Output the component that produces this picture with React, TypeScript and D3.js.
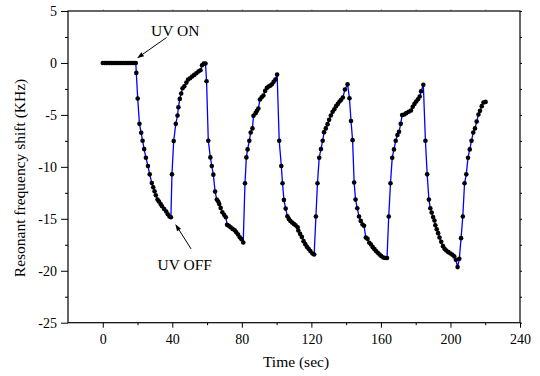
import { useEffect, useRef } from "react";
import * as d3 from "d3";

const width = 540;
const height = 376;

// plot frame in pixels
const left = 68;
const right = 520;
const top = 11;
const bottom = 322.7;

const fontFamily = '"Liberation Serif", "Times New Roman", serif';

// time in seconds
const timeSec = [
  0, 1, 2, 3, 4, 5, 6, 7, 8, 9, 10, 11, 12, 13, 14, 15, 16, 17, 18, 19,
  19.3, 20.1, 21.1, 22.1, 22.9, 23.8, 24.8, 26.0, 27.0, 28.2, 29.0, 29.8,
  30.5, 31.5, 32.3, 33.3, 34.1, 35.3, 36.5, 37.4, 38.4, 39.2,
  39.8, 40.8, 42.0, 43.0, 43.5, 44.3, 45.1, 45.9, 46.9, 48.1, 49.1, 50.2,
  51.4, 52.6, 53.8, 55.0, 56.2, 57.1, 58.1, 59.1, 59.7,
  60.7, 61.9, 62.7, 63.6, 64.6, 65.6, 66.4, 67.0, 67.8, 68.8, 69.8, 70.8,
  71.5, 72.5, 73.5, 74.7, 75.9, 76.8, 77.8, 78.8, 79.8, 80.8,
  81.8, 82.6, 83.3, 84.3, 85.1, 86.1, 86.7, 87.9, 88.7, 89.5, 90.4, 91.4,
  92.4, 93.4, 94.4, 95.4, 96.4, 97.3, 98.3, 99.3, 100.3,
  101.5, 102.7, 103.4, 104.2, 105.2, 106.2, 107.0, 107.9, 108.9, 109.9,
  110.9, 112.1, 112.5, 113.5, 114.5, 115.5, 116.5, 117.4, 118.4, 119.4,
  120.6, 121.6,
  122.6, 123.5, 124.5, 125.5, 126.5, 127.3, 128.3, 129.3, 130.2, 131.2,
  132.2, 133.2, 134.2, 135.2, 136.2, 137.1, 138.1, 139.3, 140.8, 141.9,
  142.8, 143.7, 144.6, 145.4, 146.4, 147.4, 148.4, 149.4, 150.3, 151.3,
  152.3, 153.3, 154.3, 155.3, 156.3, 157.2, 158.2, 159.2, 160.2, 161.4,
  162.4, 163.5,
  164.5, 165.5, 166.5, 167.5, 168.5, 169.5, 170.4, 171.4, 172.2, 173.4,
  174.6, 176.0, 177.3, 178.3, 179.3, 180.3, 181.3, 182.3, 183.1, 184.4,
  185.6, 186.6, 187.6, 188.4, 189.2, 190.0, 190.8, 191.3, 192.1, 192.9,
  193.7, 194.7, 195.7, 196.6, 197.6, 198.8, 200.0, 201.1, 202.2, 203.1,
  204.1, 205.1,
  206.1, 207.1, 208.1, 209.1, 210.1, 211.1, 212.1, 213.1, 214.1, 215.1,
  216.1, 217.0, 218.0, 219.0, 220.2,
];

// resonant frequency shift in KHz
const shiftKHz = [
  0, 0, 0, 0, 0, 0, 0, 0, 0, 0, 0, 0, 0, 0, 0, 0, 0, 0, 0, 0,
  -0.96, -3.42, -5.86, -6.72, -7.49, -8.29, -9.12, -9.92, -10.72, -11.55,
  -11.97, -12.35, -12.74, -13.15, -13.34, -13.57, -13.79, -14.05, -14.3,
  -14.56, -14.78, -14.85,
  -10.72, -7.52, -5.86, -5.06, -4.26, -3.46, -2.94, -2.43, -2.24, -1.89,
  -1.6, -1.47, -1.31, -1.15, -0.99, -0.83, -0.7, -0.22, -0.06, -0.06, -1.76,
  -7.49, -9.09, -9.92, -10.75, -12.38, -13.15, -13.34, -13.57, -13.95,
  -14.37, -14.62, -14.85, -15.58, -15.68, -15.81, -15.97, -16.1, -16.29,
  -16.51, -16.77, -16.96, -17.28,
  -11.58, -9.09, -8.32, -7.49, -6.69, -6.3, -5.09, -4.83, -4.61, -4.38,
  -3.52, -3.3, -3.14, -2.69, -2.4, -2.27, -2.18, -2.05, -1.82, -1.6, -1.12,
  -7.49, -9.92, -11.58, -13.18, -14.02, -14.75, -15.01, -15.2, -15.36,
  -15.49, -15.62, -15.81, -16.13, -16.45, -16.74, -17.15, -17.44, -17.7,
  -17.89, -18.11, -18.34, -18.43,
  -14.78, -11.58, -9.12, -8.29, -7.49, -6.66, -6.3, -5.89, -5.47, -5.06,
  -4.7, -4.45, -4.16, -3.94, -3.71, -3.55, -3.33, -2.56, -2.05, -3.4,
  -5.58, -7.43, -11.5, -13.15, -13.98, -14.78, -15.2, -15.55, -15.68,
  -16.8, -16.93, -17.31, -17.47, -17.73, -17.92, -18.11, -18.27, -18.43,
  -18.59, -18.72, -18.78, -18.78,
  -14.78, -11.58, -9.12, -8.32, -7.49, -6.94, -6.62, -5.86, -5.02, -4.96,
  -4.83, -4.7, -4.58, -4.22, -3.94, -3.71, -3.49, -3.23, -2.72, -2.11,
  -7.49, -10.72, -13.15, -13.98, -14.4, -14.82, -15.17, -15.62, -16.0,
  -16.38, -16.8, -17.22, -17.63, -17.89, -18.05, -18.21, -18.34, -18.46,
  -18.62, -18.94, -19.65, -18.85,
  -16.86, -14.78, -11.58, -10.72, -9.12, -8.32, -7.49, -6.69, -6.3, -5.63,
  -4.96, -4.61, -4.16, -3.81, -3.75,
];

const xMajorTicks = [0, 40, 80, 120, 160, 200, 240];
const xMinorTicks = [20, 60, 100, 140, 180, 220];
const yMajorTicks = [5, 0, -5, -10, -15, -20, -25];
const yMinorTicks = [2.5, -2.5, -7.5, -12.5, -17.5, -22.5];

// annotation texts with arrow ends in data units (tip is next to the point)
const annotations = [
  { label: "UV ON", textX: 27.8, textY: 2.6, fromX: 36.7, fromY: 2.45, tipX: 19.7, tipY: 0.45 },
  { label: "UV OFF", textX: 31.5, textY: -19.9, fromX: 50.8, fromY: -17.9, tipX: 41.7, tipY: -15.5 },
];

export default function App() {
  const svgRef = useRef<SVGSVGElement | null>(null);

  useEffect(() => {
    if (!svgRef.current) return;
    const svg = d3.select(svgRef.current);
    svg.selectAll("*").remove();

    const x = d3.scaleLinear().domain([-20, 240]).range([left, right]);
    const y = d3.scaleLinear().domain([-25, 5]).range([bottom, top]);

    const styleAxis = (g: d3.Selection<SVGGElement, unknown, null, undefined>) => {
      g.select(".domain").remove();
      g.selectAll("line").attr("stroke", "#000").attr("stroke-width", 1);
      g.selectAll("text")
        .attr("fill", "#000")
        .style("font-family", fontFamily)
        .style("font-size", "14px");
    };

    // bottom axis
    svg
      .append("g")
      .attr("transform", `translate(0,${bottom})`)
      .call(
        d3.axisBottom(x).tickValues(xMajorTicks).tickSize(5).tickPadding(6)
          .tickFormat((d) => String(d)),
      )
      .call(styleAxis);
    svg
      .append("g")
      .attr("transform", `translate(0,${bottom})`)
      .call(d3.axisBottom(x).tickValues(xMinorTicks).tickSize(2.5).tickFormat(() => ""))
      .call(styleAxis);

    // left axis
    svg
      .append("g")
      .attr("transform", `translate(${left},0)`)
      .call(
        d3.axisLeft(y).tickValues(yMajorTicks).tickSize(7).tickPadding(4)
          .tickFormat((d) => String(d)),
      )
      .call(styleAxis);
    svg
      .append("g")
      .attr("transform", `translate(${left},0)`)
      .call(d3.axisLeft(y).tickValues(yMinorTicks).tickSize(3).tickFormat(() => ""))
      .call(styleAxis);

    // right and top: short ticks only
    svg
      .append("g")
      .attr("transform", `translate(${right},0)`)
      .call(
        d3.axisRight(y).tickValues([...yMajorTicks, ...yMinorTicks]).tickSize(2)
          .tickFormat(() => ""),
      )
      .call(styleAxis);
    svg
      .append("g")
      .attr("transform", `translate(0,${top})`)
      .call(
        d3.axisTop(x).tickValues([...xMajorTicks, ...xMinorTicks].filter((d) => d < 240))
          .tickSize(2).tickFormat(() => ""),
      )
      .call(styleAxis)
      .selectAll("line")
      .attr("stroke", "#bbb");

    // frame
    svg
      .append("rect")
      .attr("x", left)
      .attr("y", top)
      .attr("width", right - left)
      .attr("height", bottom - top)
      .attr("fill", "none")
      .attr("stroke", "#000")
      .attr("stroke-width", 1.2);

    const points = timeSec.map((t, i) => ({ t, v: shiftKHz[i] }));

    const line = d3
      .line<{ t: number; v: number }>()
      .x((d) => x(d.t))
      .y((d) => y(d.v));

    svg
      .append("path")
      .attr("d", line(points))
      .attr("fill", "none")
      .attr("stroke", "#0000ff")
      .attr("stroke-width", 1.3);

    svg
      .append("g")
      .selectAll("circle")
      .data(points)
      .join("circle")
      .attr("cx", (d) => x(d.t))
      .attr("cy", (d) => y(d.v))
      .attr("r", 2.3)
      .attr("fill", "#000");

    // annotations with arrows
    annotations.forEach((a) => {
      const x1 = x(a.fromX);
      const y1 = y(a.fromY);
      const x2 = x(a.tipX);
      const y2 = y(a.tipY);
      const angle = Math.atan2(y2 - y1, x2 - x1);
      const headLen = 7;
      const headHalf = 2.3;
      const bx = x2 - Math.cos(angle) * headLen;
      const by = y2 - Math.sin(angle) * headLen;
      const nx = -Math.sin(angle) * headHalf;
      const ny = Math.cos(angle) * headHalf;

      svg
        .append("line")
        .attr("x1", x1)
        .attr("y1", y1)
        .attr("x2", bx)
        .attr("y2", by)
        .attr("stroke", "#000")
        .attr("stroke-width", 1);
      svg
        .append("path")
        .attr("d", `M${x2},${y2}L${bx + nx},${by + ny}L${bx - nx},${by - ny}Z`)
        .attr("fill", "#000");

      svg
        .append("text")
        .attr("x", x(a.textX))
        .attr("y", y(a.textY))
        .attr("fill", "#000")
        .style("font-family", fontFamily)
        .style("font-size", "15.5px")
        .text(a.label);
    });

    // axis titles
    svg
      .append("text")
      .attr("x", 296)
      .attr("y", 367)
      .attr("text-anchor", "middle")
      .attr("fill", "#000")
      .style("font-family", fontFamily)
      .style("font-size", "15.5px")
      .text("Time (sec)");

    svg
      .append("text")
      .attr("transform", "translate(24.5,178) rotate(-90)")
      .attr("text-anchor", "middle")
      .attr("fill", "#000")
      .style("font-family", fontFamily)
      .style("font-size", "15.5px")
      .text("Resonant frequency shift (KHz)");
  }, []);

  return (
    <svg
      ref={svgRef}
      width={width}
      height={height}
      viewBox={`0 0 ${width} ${height}`}
      style={{ position: "absolute", left: 0, top: 0, background: "#fff" }}
    />
  );
}
